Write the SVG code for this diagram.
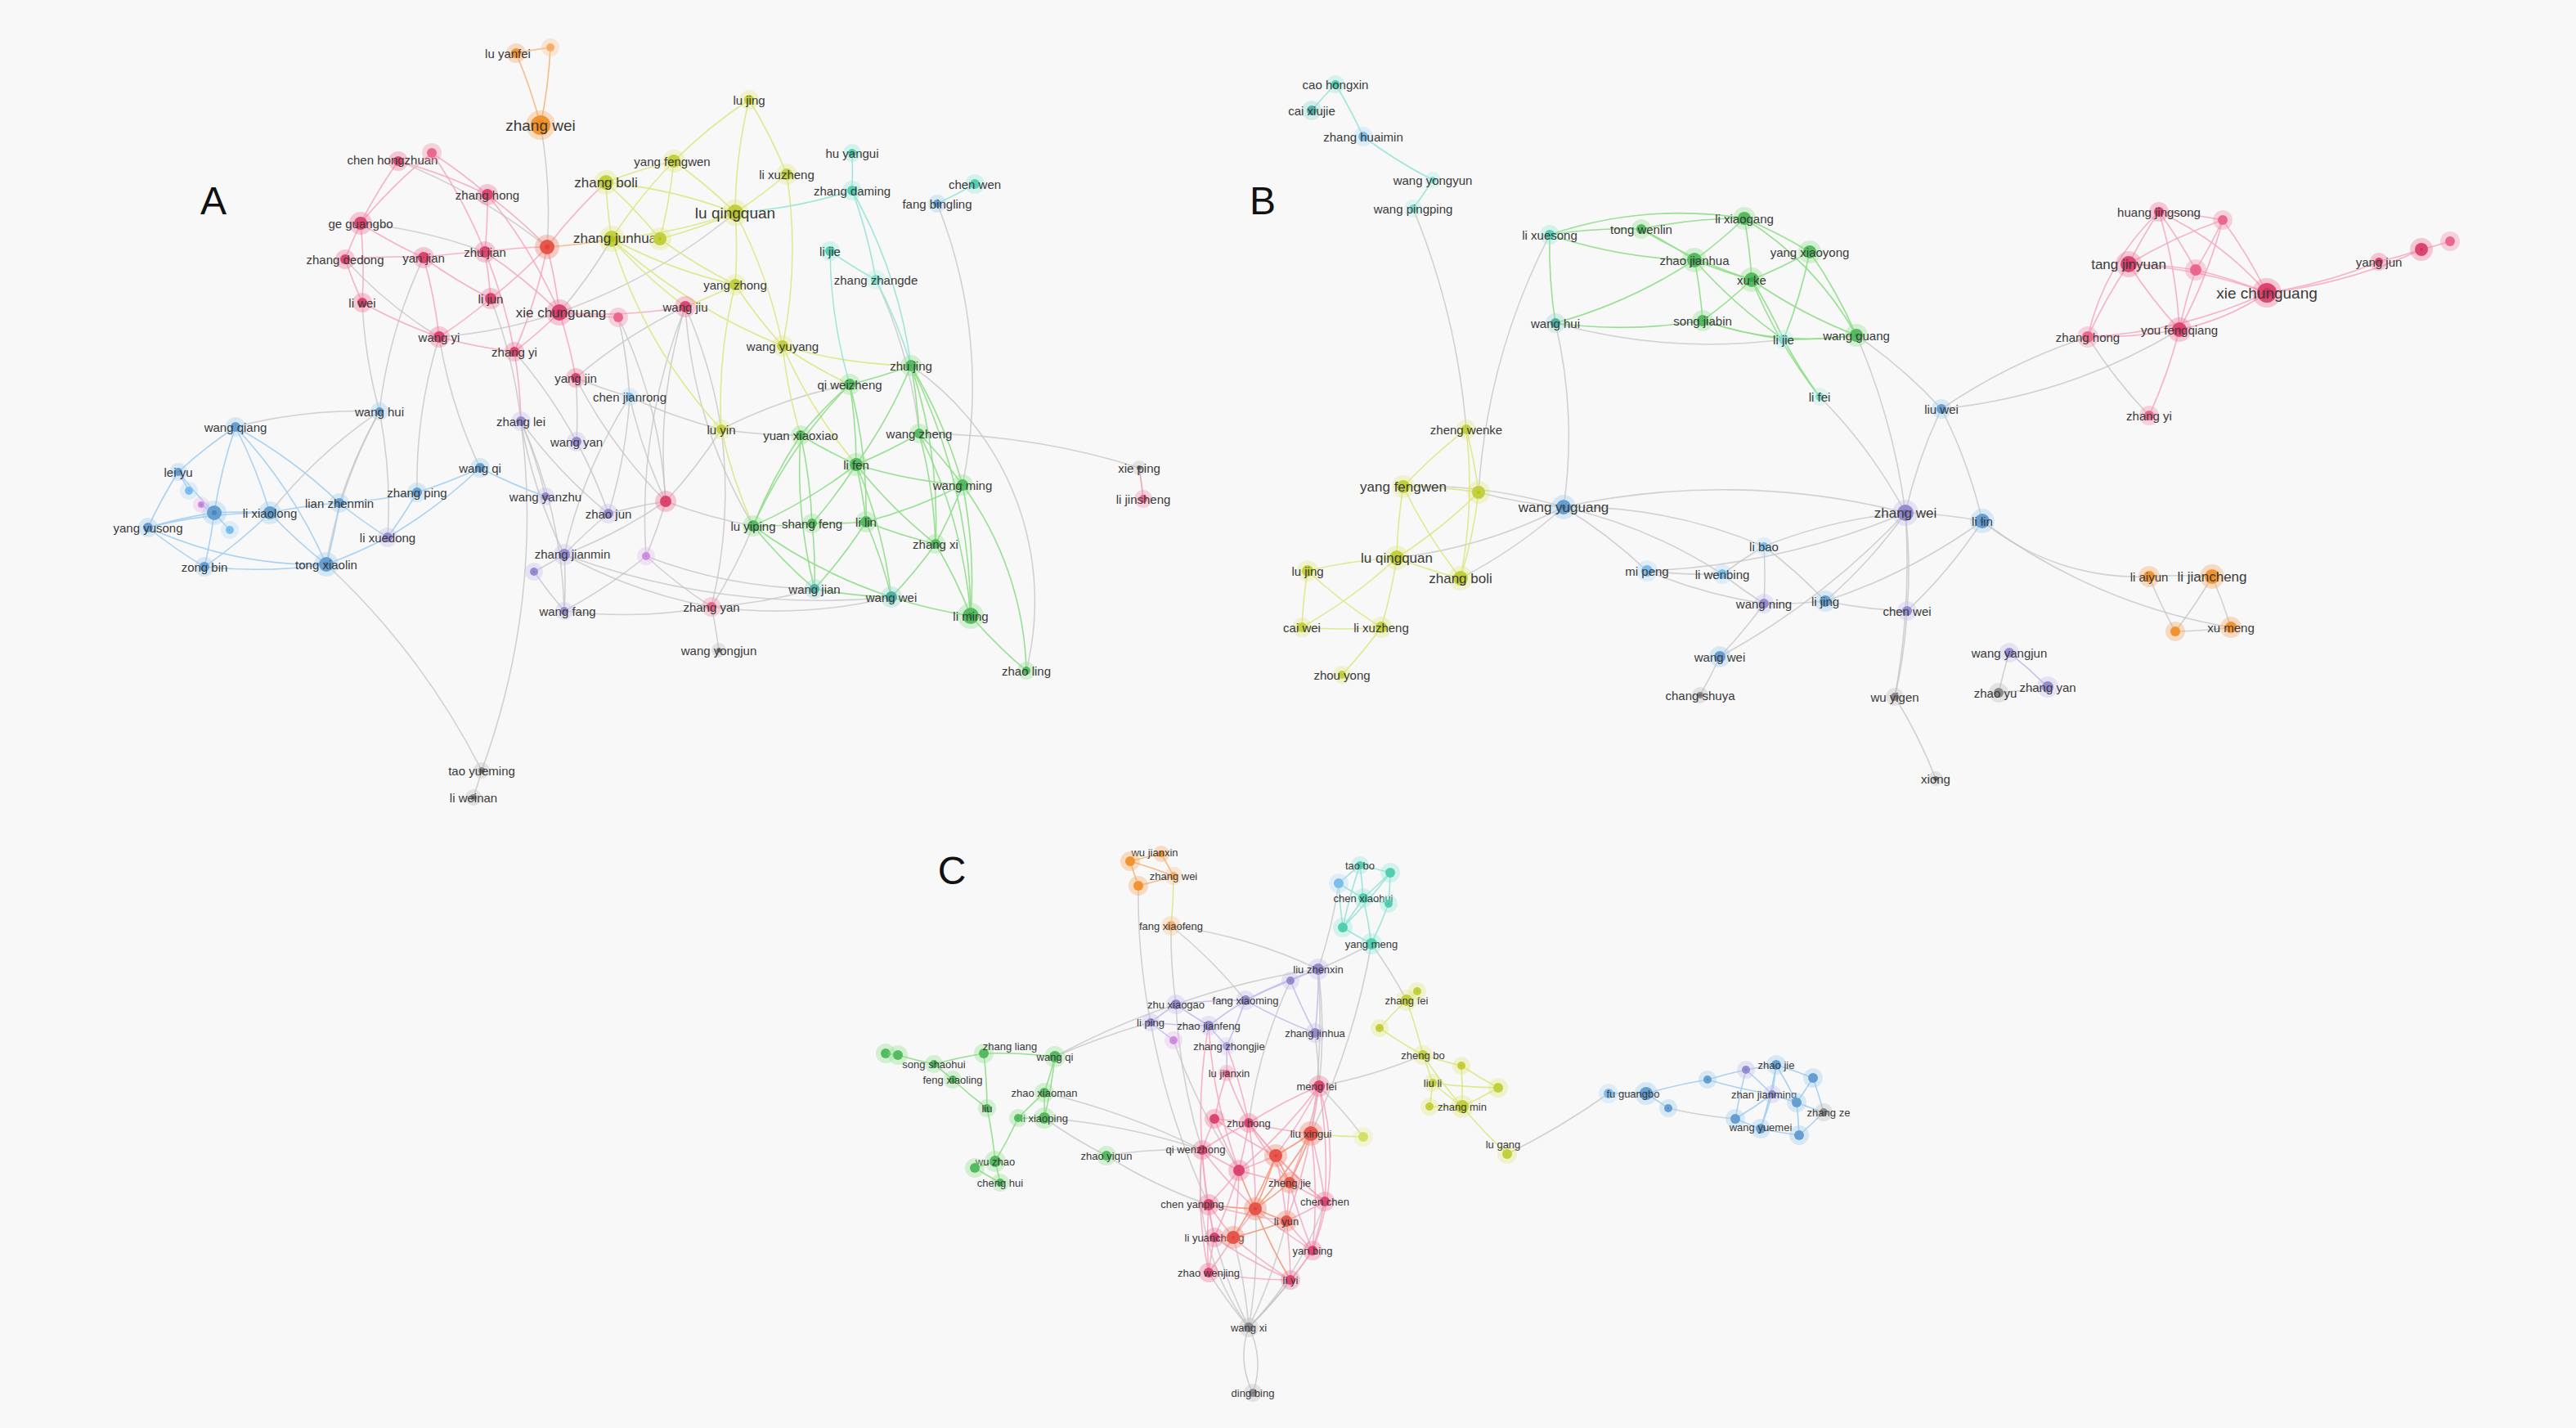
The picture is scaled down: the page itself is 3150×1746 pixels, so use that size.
<svg xmlns="http://www.w3.org/2000/svg" width="3150" height="1746" viewBox="0 0 3150 1746">
<style>
.bg{fill:#f8f8f8}
#connectors path{fill:none;stroke-width:1.6}
.g0 path{stroke:#c4c4c4;stroke-opacity:.75}
.pk path{stroke:#f6a6be;stroke-opacity:.85}
.yl path{stroke:#dde88a;stroke-opacity:.95}
.gr path{stroke:#92de8c;stroke-opacity:.95}
.tl path{stroke:#9fe6d8}
.bl path{stroke:#a9d2f2}
.or path{stroke:#f5bc86}
.pu path{stroke:#c9c2ee}
.ro path{stroke:#f4a083}
circle{stroke-opacity:.35;stroke-width:12}
.cO{fill:#f08a1c;stroke:#f5a45a}
.cOl{fill:#f4a65a;stroke:#f8c48e}
.cR{fill:#d0325e;stroke:#f06a92}
.cRp{fill:#e9557f;stroke:#f48aaa}
.cRr{fill:#e0433f;stroke:#f07a60}
.cY{fill:#b4c21c;stroke:#dfe87a}
.cYl{fill:#cbd84a;stroke:#e6ee9c}
.cG{fill:#36a84a;stroke:#8fe08a}
.cT{fill:#33c0a0;stroke:#8fe8d6}
.cTl{fill:#6cd5c3;stroke:#b0efe4}
.cTd{fill:#2a9d8f;stroke:#8fd8cf}
.cB{fill:#4a86c0;stroke:#9ccaf0}
.cLB{fill:#62aee6;stroke:#b0daf6}
.cP{fill:#7d72c2;stroke:#c2bcec}
.cPl{fill:#9a90d6;stroke:#d0cbf2}
.cV{fill:#c47ad8;stroke:#e2b6ee}
.cGr{fill:#707070;stroke:#bbbbbb}
text{font-family:"Liberation Sans",Arial,sans-serif;font-size:15px;fill:#3a3a3a;text-anchor:middle;dominant-baseline:central}
.s{font-size:13px}
.m{font-size:17px}
.L{font-size:19px}
.panel{font-size:48px;fill:#111;dominant-baseline:auto}
</style>
<rect class="bg" x="0" y="0" width="3150" height="1746"/>
<text class="panel" x="261" y="262">A</text>
<text class="panel" x="1544" y="262">B</text>
<text class="panel" x="1164" y="1081">C</text>
<g id="connectors">
<g class="g0">
<path d="M661 153A600 600 0 0 1 669 302"/>
<path d="M441 273A600 600 0 0 1 593 308"/>
<path d="M487 197A700 700 0 0 1 669 302"/>
<path d="M422 317A500 500 0 0 0 537 412"/>
<path d="M443 370A600 600 0 0 0 464 503"/>
<path d="M600 365A600 600 0 0 1 637 515"/>
<path d="M537 412A600 600 0 0 0 587 572"/>
<path d="M629 430A600 600 0 0 1 705 540"/>
<path d="M704 462A600 600 0 0 1 705 540"/>
<path d="M464 503A600 600 0 0 0 330 627"/>
<path d="M464 503A600 600 0 0 0 399 690"/>
<path d="M464 503A600 600 0 0 0 288 522"/>
<path d="M464 503A600 600 0 0 1 474 657"/>
<path d="M464 503A600 600 0 0 0 415 615"/>
<path d="M637 515A600 600 0 0 0 744 628"/>
<path d="M637 515A600 600 0 0 1 667 607"/>
<path d="M705 540A600 600 0 0 1 744 628"/>
<path d="M704 462A600 600 0 0 1 838 375"/>
<path d="M704 462A600 600 0 0 0 770 485"/>
<path d="M537 412A600 600 0 0 0 684 382"/>
<path d="M684 382A600 600 0 0 0 748 292"/>
<path d="M684 382A700 700 0 0 0 899 260"/>
<path d="M704 462A600 600 0 0 0 814 613"/>
<path d="M637 515A600 600 0 0 0 690 678"/>
<path d="M518 315A600 600 0 0 0 464 503"/>
<path d="M537 412A600 600 0 0 0 510 602"/>
<path d="M637 515A600 600 0 0 1 690 747"/>
<path d="M770 485A600 600 0 0 0 690 678"/>
<path d="M882 525A600 600 0 0 1 870 742"/>
<path d="M838 375A700 700 0 0 0 790 680"/>
<path d="M1039 470A600 600 0 0 0 882 525"/>
<path d="M1146 249A600 600 0 0 1 1177 593"/>
<path d="M1071 342A600 600 0 0 1 1124 530"/>
<path d="M1114 447A350 350 0 0 1 1255 820"/>
<path d="M838 375A600 600 0 0 0 814 613"/>
<path d="M838 375A600 600 0 0 0 921 643"/>
<path d="M814 613A600 600 0 0 0 921 643"/>
<path d="M814 613A600 600 0 0 0 744 628"/>
<path d="M814 613A600 600 0 0 1 790 680"/>
<path d="M814 613A600 600 0 0 1 690 678"/>
<path d="M814 613A600 600 0 0 0 882 525"/>
<path d="M814 613A600 600 0 0 1 770 485"/>
<path d="M744 628A600 600 0 0 0 690 678"/>
<path d="M690 678A600 600 0 0 1 653 699"/>
<path d="M690 678A600 600 0 0 0 870 742"/>
<path d="M690 678A600 600 0 0 1 690 747"/>
<path d="M790 680A600 600 0 0 1 690 747"/>
<path d="M790 680A600 600 0 0 0 870 742"/>
<path d="M870 742A600 600 0 0 1 879 795"/>
<path d="M870 742A600 600 0 0 0 996 720"/>
<path d="M870 742A600 600 0 0 0 921 643"/>
<path d="M770 485A600 600 0 0 0 882 525"/>
<path d="M770 485A600 600 0 0 1 744 628"/>
<path d="M882 525A600 600 0 0 0 979 532"/>
<path d="M690 747A600 600 0 0 1 653 699"/>
<path d="M690 678A900 900 0 0 0 1090 730"/>
<path d="M790 680A600 600 0 0 0 996 720"/>
<path d="M870 742A600 600 0 0 0 1090 730"/>
<path d="M690 747A600 600 0 0 0 870 742"/>
<path d="M756 388A600 600 0 0 1 814 613"/>
<path d="M756 388A600 600 0 0 1 770 485"/>
<path d="M838 375A600 600 0 0 1 882 525"/>
<path d="M1124 530A900 900 0 0 1 1393 572"/>
<path d="M1393 572A600 600 0 0 1 1398 610"/>
<path d="M399 690A900 900 0 0 1 589 942"/>
<path d="M637 515A900 900 0 0 1 589 942"/>
<path d="M589 942A600 600 0 0 1 579 975"/>
<path d="M1728 255A900 900 0 0 1 1793 525"/>
<path d="M1902 395A700 700 0 0 0 2181 415"/>
<path d="M2270 410A600 600 0 0 1 2374 500"/>
<path d="M2225 485A600 600 0 0 1 2330 627"/>
<path d="M1902 395A600 600 0 0 1 1912 620"/>
<path d="M1895 287A800 800 0 0 0 1808 602"/>
<path d="M1808 602A600 600 0 0 0 1912 620"/>
<path d="M1786 707A600 600 0 0 0 1912 620"/>
<path d="M1708 682A600 600 0 0 0 1912 620"/>
<path d="M1716 595A600 600 0 0 1 1912 620"/>
<path d="M1912 620A600 600 0 0 1 2014 698"/>
<path d="M1912 620A600 600 0 0 1 2106 702"/>
<path d="M1912 620A600 600 0 0 1 2157 668"/>
<path d="M1912 620A900 900 0 0 1 2330 627"/>
<path d="M2014 698A600 600 0 0 0 2106 702"/>
<path d="M2014 698A600 600 0 0 0 2157 738"/>
<path d="M2106 702A600 600 0 0 0 2157 738"/>
<path d="M2106 702A600 600 0 0 1 2157 668"/>
<path d="M2157 668A600 600 0 0 1 2157 738"/>
<path d="M2157 668A600 600 0 0 1 2232 735"/>
<path d="M2157 738A600 600 0 0 0 2232 735"/>
<path d="M2157 738A600 600 0 0 1 2103 803"/>
<path d="M2103 803A600 600 0 0 1 2079 850"/>
<path d="M2157 668A600 600 0 0 1 2330 627"/>
<path d="M2232 735A600 600 0 0 0 2330 627"/>
<path d="M2232 735A700 700 0 0 0 2424 637"/>
<path d="M2330 627A600 600 0 0 1 2424 637"/>
<path d="M2330 627A600 600 0 0 1 2374 500"/>
<path d="M2374 500A600 600 0 0 1 2424 637"/>
<path d="M2330 627A600 600 0 0 1 2332 747"/>
<path d="M2424 637A600 600 0 0 1 2332 747"/>
<path d="M2332 747A600 600 0 0 1 2317 852"/>
<path d="M2317 852A600 600 0 0 1 2367 952"/>
<path d="M2330 627A900 900 0 0 1 2317 852"/>
<path d="M2424 637A300 300 0 0 0 2628 705"/>
<path d="M2424 637A700 700 0 0 0 2728 767"/>
<path d="M2628 705A600 600 0 0 1 2705 705"/>
<path d="M2628 705A600 600 0 0 0 2660 772"/>
<path d="M2705 705A600 600 0 0 1 2660 772"/>
<path d="M2705 705A600 600 0 0 1 2728 767"/>
<path d="M2660 772A600 600 0 0 0 2728 767"/>
<path d="M2457 798A600 600 0 0 0 2444 847"/>
<path d="M2457 798A600 600 0 0 1 2504 840"/>
<path d="M2444 847A600 600 0 0 0 2504 840"/>
<path d="M2374 500A700 700 0 0 1 2553 412"/>
<path d="M2330 627A900 900 0 0 1 2103 803"/>
<path d="M2330 627A800 800 0 0 0 2270 410"/>
<path d="M2330 627A900 900 0 0 1 2014 698"/>
<path d="M2332 747A600 600 0 0 1 2232 735"/>
<path d="M2553 412A600 600 0 0 0 2628 508"/>
<path d="M2665 403A700 700 0 0 1 2374 500"/>
<path d="M1432 1132A600 600 0 0 0 1438 1228"/>
<path d="M1432 1132A600 600 0 0 1 1523 1223"/>
<path d="M1432 1132A600 600 0 0 1 1612 1185"/>
<path d="M1392 1083A800 800 0 0 0 1407 1250"/>
<path d="M1677 1154A600 600 0 0 1 1612 1185"/>
<path d="M1677 1154A600 600 0 0 1 1720 1223"/>
<path d="M1612 1185A600 600 0 0 1 1613 1328"/>
<path d="M1608 1263A600 600 0 0 1 1613 1328"/>
<path d="M1578 1199A600 600 0 0 0 1527 1373"/>
<path d="M1612 1185A900 900 0 0 1 1603 1386"/>
<path d="M1677 1154A900 900 0 0 1 1603 1386"/>
<path d="M1612 1185A900 900 0 0 0 1438 1228"/>
<path d="M1612 1185A600 600 0 0 0 1637 1080"/>
<path d="M1740 1290A600 600 0 0 1 1613 1328"/>
<path d="M1667 1390A600 600 0 0 0 1613 1328"/>
<path d="M1843 1411A900 900 0 0 0 1967 1337"/>
<path d="M2040 1355A600 600 0 0 0 2122 1368"/>
<path d="M1277 1367A600 600 0 0 0 1353 1413"/>
<path d="M1353 1413A600 600 0 0 0 1478 1473"/>
<path d="M1353 1413A600 600 0 0 1 1470 1406"/>
<path d="M1277 1367A800 800 0 0 1 1470 1406"/>
<path d="M1290 1292A900 900 0 0 1 1407 1250"/>
<path d="M1290 1292A900 900 0 0 1 1438 1228"/>
<path d="M1277 1336A900 900 0 0 1 1470 1406"/>
<path d="M1407 1250A900 900 0 0 0 1478 1473"/>
<path d="M1435 1272A700 700 0 0 0 1515 1431"/>
<path d="M1438 1228A700 700 0 0 0 1470 1406"/>
<path d="M1478 1556A600 600 0 0 0 1527 1623"/>
<path d="M1578 1565A600 600 0 0 1 1527 1623"/>
<path d="M1508 1513A600 600 0 0 1 1527 1623"/>
<path d="M1485 1513A600 600 0 0 0 1527 1623"/>
<path d="M1605 1529A600 600 0 0 1 1527 1623"/>
<path d="M1470 1406A300 300 0 0 0 1527 1623"/>
<path d="M1620 1469A400 400 0 0 1 1527 1623"/>
<path d="M1535 1478A600 600 0 0 1 1527 1623"/>
<path d="M1573 1493A600 600 0 0 1 1527 1623"/>
<path d="M1527 1623A100 100 0 0 0 1532 1703"/>
<path d="M1527 1623A100 100 0 0 1 1532 1703"/>
</g>
<g class="or">
<path d="M631 65A600 600 0 0 1 661 153"/>
<path d="M673 58A600 600 0 0 1 661 153"/>
<path d="M631 65A600 600 0 0 1 673 58"/>
<path d="M669 302A600 600 0 0 0 748 292"/>
<path d="M1420 1044A600 600 0 0 0 1382 1053"/>
<path d="M1382 1053A600 600 0 0 0 1392 1083"/>
<path d="M1392 1083A600 600 0 0 0 1435 1071"/>
<path d="M1420 1044A600 600 0 0 1 1435 1071"/>
<path d="M1382 1053A600 600 0 0 1 1435 1071"/>
</g>
<g class="pk">
<path d="M487 197A600 600 0 0 0 441 273"/>
<path d="M487 197A600 600 0 0 1 596 238"/>
<path d="M528 187A600 600 0 0 0 441 273"/>
<path d="M528 187A600 600 0 0 1 596 238"/>
<path d="M528 187A600 600 0 0 1 593 308"/>
<path d="M596 238A600 600 0 0 1 593 308"/>
<path d="M596 238A600 600 0 0 1 669 302"/>
<path d="M593 308A600 600 0 0 1 669 302"/>
<path d="M593 308A600 600 0 0 1 684 382"/>
<path d="M593 308A600 600 0 0 1 600 365"/>
<path d="M669 302A600 600 0 0 1 684 382"/>
<path d="M669 302A600 600 0 0 1 629 430"/>
<path d="M669 302A600 600 0 0 1 600 365"/>
<path d="M593 308A600 600 0 0 0 518 315"/>
<path d="M518 315A600 600 0 0 1 537 412"/>
<path d="M518 315A600 600 0 0 0 600 365"/>
<path d="M441 273A600 600 0 0 0 422 317"/>
<path d="M441 273A600 600 0 0 0 518 315"/>
<path d="M441 273A600 600 0 0 1 443 370"/>
<path d="M422 317A600 600 0 0 0 443 370"/>
<path d="M422 317A600 600 0 0 1 518 315"/>
<path d="M600 365A600 600 0 0 1 537 412"/>
<path d="M537 412A600 600 0 0 0 629 430"/>
<path d="M684 382A600 600 0 0 1 629 430"/>
<path d="M684 382A600 600 0 0 1 704 462"/>
<path d="M684 382A600 600 0 0 0 838 375"/>
<path d="M684 382A600 600 0 0 0 756 388"/>
<path d="M629 430A600 600 0 0 1 637 515"/>
<path d="M443 370A600 600 0 0 0 537 412"/>
<path d="M596 238A600 600 0 0 1 684 382"/>
<path d="M593 308A600 600 0 0 1 629 430"/>
<path d="M669 302A600 600 0 0 1 741 223"/>
<path d="M1393 572A600 600 0 0 1 1398 610"/>
<path d="M2640 259A600 600 0 0 1 2718 269"/>
<path d="M2640 259A600 600 0 0 0 2603 323"/>
<path d="M2640 259A600 600 0 0 1 2685 330"/>
<path d="M2640 259A400 400 0 0 1 2772 358"/>
<path d="M2640 259A300 300 0 0 0 2553 412"/>
<path d="M2718 269A600 600 0 0 0 2603 323"/>
<path d="M2718 269A600 600 0 0 1 2772 358"/>
<path d="M2718 269A600 600 0 0 1 2665 403"/>
<path d="M2718 269A600 600 0 0 1 2685 330"/>
<path d="M2603 323A600 600 0 0 1 2685 330"/>
<path d="M2603 323A600 600 0 0 0 2665 403"/>
<path d="M2603 323A600 600 0 0 0 2553 412"/>
<path d="M2603 323A600 600 0 0 1 2772 358"/>
<path d="M2685 330A600 600 0 0 1 2772 358"/>
<path d="M2685 330A600 600 0 0 0 2665 403"/>
<path d="M2772 358A300 300 0 0 1 2665 403"/>
<path d="M2665 403A600 600 0 0 1 2553 412"/>
<path d="M2665 403A600 600 0 0 1 2628 508"/>
<path d="M2772 358A600 600 0 0 1 2553 412"/>
<path d="M2772 358A600 600 0 0 0 2909 320"/>
<path d="M2909 320A600 600 0 0 0 2961 305"/>
<path d="M2961 305A600 600 0 0 0 2996 295"/>
<path d="M2772 358A600 600 0 0 0 2961 305"/>
<path d="M2640 259A600 600 0 0 1 2665 403"/>
<path d="M1527 1373A600 600 0 0 1 1613 1328"/>
<path d="M1527 1373A600 600 0 0 0 1603 1386"/>
<path d="M1527 1373A600 600 0 0 0 1470 1406"/>
<path d="M1527 1373A600 600 0 0 0 1560 1413"/>
<path d="M1527 1373A600 600 0 0 1 1515 1431"/>
<path d="M1613 1328A600 600 0 0 1 1603 1386"/>
<path d="M1613 1328A600 600 0 0 1 1560 1413"/>
<path d="M1613 1328A600 600 0 0 1 1620 1469"/>
<path d="M1603 1386A600 600 0 0 1 1620 1469"/>
<path d="M1603 1386A600 600 0 0 1 1605 1529"/>
<path d="M1470 1406A600 600 0 0 0 1515 1431"/>
<path d="M1470 1406A600 600 0 0 0 1478 1473"/>
<path d="M1470 1406A600 600 0 0 1 1485 1368"/>
<path d="M1485 1368A600 600 0 0 1 1527 1373"/>
<path d="M1560 1413A600 600 0 0 1 1515 1431"/>
<path d="M1515 1431A600 600 0 0 1 1478 1473"/>
<path d="M1515 1431A600 600 0 0 0 1577 1446"/>
<path d="M1577 1446A600 600 0 0 0 1620 1469"/>
<path d="M1577 1446A600 600 0 0 1 1573 1493"/>
<path d="M1620 1469A600 600 0 0 1 1605 1529"/>
<path d="M1620 1469A600 600 0 0 1 1573 1493"/>
<path d="M1478 1473A600 600 0 0 0 1485 1513"/>
<path d="M1478 1473A600 600 0 0 0 1508 1513"/>
<path d="M1535 1478A600 600 0 0 1 1508 1513"/>
<path d="M1573 1493A600 600 0 0 0 1605 1529"/>
<path d="M1573 1493A600 600 0 0 1 1578 1565"/>
<path d="M1485 1513A600 600 0 0 0 1508 1513"/>
<path d="M1485 1513A600 600 0 0 0 1478 1556"/>
<path d="M1508 1513A600 600 0 0 1 1478 1556"/>
<path d="M1508 1513A600 600 0 0 0 1578 1565"/>
<path d="M1605 1529A600 600 0 0 1 1578 1565"/>
<path d="M1478 1556A600 600 0 0 0 1578 1565"/>
<path d="M1500 1312A600 600 0 0 0 1527 1373"/>
<path d="M1500 1312A600 600 0 0 0 1485 1368"/>
<path d="M1500 1279A600 600 0 0 1 1527 1373"/>
<path d="M1478 1254A600 600 0 0 0 1470 1406"/>
<path d="M1613 1328A600 600 0 0 1 1577 1446"/>
<path d="M1603 1386A600 600 0 0 1 1573 1493"/>
<path d="M1470 1406A500 500 0 0 0 1478 1556"/>
<path d="M1478 1473A600 600 0 0 0 1478 1556"/>
<path d="M1560 1413A600 600 0 0 0 1620 1469"/>
<path d="M1527 1373A600 600 0 0 1 1535 1478"/>
<path d="M1515 1431A600 600 0 0 1 1485 1513"/>
<path d="M1535 1478A600 600 0 0 0 1605 1529"/>
<path d="M1613 1328A300 300 0 0 1 1605 1529"/>
<path d="M1470 1406A600 600 0 0 0 1485 1513"/>
<path d="M1527 1373A600 600 0 0 0 1577 1446"/>
<path d="M1485 1368A600 600 0 0 0 1515 1431"/>
<path d="M1560 1413A600 600 0 0 1 1573 1493"/>
<path d="M1478 1254A600 600 0 0 0 1515 1431"/>
<path d="M1485 1368A600 600 0 0 0 1560 1413"/>
<path d="M1470 1406A600 600 0 0 0 1535 1478"/>
<path d="M1478 1473A600 600 0 0 0 1573 1493"/>
<path d="M1485 1513A600 600 0 0 0 1578 1565"/>
<path d="M1577 1446A600 600 0 0 0 1605 1529"/>
<path d="M1515 1431A600 600 0 0 1 1508 1513"/>
<path d="M1527 1373A600 600 0 0 0 1620 1469"/>
<path d="M1613 1328A600 600 0 0 1 1515 1431"/>
</g>
<g class="ro">
<path d="M1603 1386A600 600 0 0 1 1560 1413"/>
<path d="M1603 1386A600 600 0 0 1 1577 1446"/>
<path d="M1560 1413A600 600 0 0 1 1577 1446"/>
<path d="M1560 1413A600 600 0 0 1 1535 1478"/>
<path d="M1515 1431A600 600 0 0 0 1535 1478"/>
<path d="M1577 1446A600 600 0 0 1 1535 1478"/>
<path d="M1478 1473A600 600 0 0 0 1535 1478"/>
<path d="M1535 1478A600 600 0 0 0 1573 1493"/>
<path d="M1603 1386A600 600 0 0 1 1535 1478"/>
<path d="M1560 1413A600 600 0 0 1 1508 1513"/>
<path d="M1535 1478A600 600 0 0 0 1578 1565"/>
<path d="M1573 1493A600 600 0 0 1 1508 1513"/>
</g>
<g class="yl">
<path d="M916 122A600 600 0 0 0 899 260"/>
<path d="M916 122A600 600 0 0 1 962 213"/>
<path d="M824 197A600 600 0 0 0 741 223"/>
<path d="M824 197A600 600 0 0 1 899 260"/>
<path d="M824 197A600 600 0 0 0 748 292"/>
<path d="M824 197A600 600 0 0 1 807 292"/>
<path d="M741 223A600 600 0 0 0 748 292"/>
<path d="M741 223A600 600 0 0 1 899 260"/>
<path d="M741 223A600 600 0 0 1 807 292"/>
<path d="M899 260A600 600 0 0 1 748 292"/>
<path d="M899 260A600 600 0 0 1 807 292"/>
<path d="M899 260A600 600 0 0 0 962 213"/>
<path d="M899 260A600 600 0 0 1 899 348"/>
<path d="M748 292A600 600 0 0 0 899 348"/>
<path d="M807 292A600 600 0 0 0 899 348"/>
<path d="M899 348A600 600 0 0 0 957 423"/>
<path d="M899 260A600 600 0 0 1 957 423"/>
<path d="M962 213A600 600 0 0 1 957 423"/>
<path d="M957 423A600 600 0 0 0 1114 447"/>
<path d="M957 423A600 600 0 0 0 1039 470"/>
<path d="M899 348A600 600 0 0 0 882 525"/>
<path d="M882 525A600 600 0 0 0 921 643"/>
<path d="M748 292A600 600 0 0 0 838 375"/>
<path d="M899 348A600 600 0 0 1 838 375"/>
<path d="M957 423A600 600 0 0 0 979 532"/>
<path d="M748 292A600 600 0 0 0 882 525"/>
<path d="M824 197A600 600 0 0 1 916 122"/>
<path d="M748 292A700 700 0 0 0 957 423"/>
<path d="M957 423A600 600 0 0 0 1047 568"/>
<path d="M1793 525A600 600 0 0 0 1716 595"/>
<path d="M1793 525A600 600 0 0 1 1808 602"/>
<path d="M1716 595A600 600 0 0 1 1808 602"/>
<path d="M1716 595A600 600 0 0 0 1708 682"/>
<path d="M1808 602A600 600 0 0 1 1708 682"/>
<path d="M1808 602A600 600 0 0 1 1786 707"/>
<path d="M1708 682A600 600 0 0 0 1786 707"/>
<path d="M1708 682A600 600 0 0 0 1599 698"/>
<path d="M1708 682A600 600 0 0 1 1689 767"/>
<path d="M1708 682A600 600 0 0 1 1592 767"/>
<path d="M1599 698A600 600 0 0 0 1592 767"/>
<path d="M1599 698A600 600 0 0 0 1689 767"/>
<path d="M1592 767A600 600 0 0 0 1689 767"/>
<path d="M1689 767A600 600 0 0 1 1641 825"/>
<path d="M1716 595A600 600 0 0 0 1786 707"/>
<path d="M1793 525A600 600 0 0 1 1786 707"/>
<path d="M1435 1071A600 600 0 0 1 1432 1132"/>
<path d="M1720 1223A600 600 0 0 0 1733 1212"/>
<path d="M1720 1223A600 600 0 0 0 1687 1257"/>
<path d="M1720 1223A600 600 0 0 1 1740 1290"/>
<path d="M1740 1290A600 600 0 0 0 1787 1303"/>
<path d="M1740 1290A600 600 0 0 1 1752 1324"/>
<path d="M1740 1290A600 600 0 0 0 1788 1353"/>
<path d="M1752 1324A600 600 0 0 0 1788 1353"/>
<path d="M1752 1324A600 600 0 0 1 1748 1353"/>
<path d="M1748 1353A600 600 0 0 0 1788 1353"/>
<path d="M1788 1353A600 600 0 0 0 1832 1330"/>
<path d="M1787 1303A600 600 0 0 0 1832 1330"/>
<path d="M1787 1303A600 600 0 0 1 1788 1353"/>
<path d="M1788 1353A600 600 0 0 0 1843 1411"/>
<path d="M1752 1324A600 600 0 0 0 1832 1330"/>
<path d="M1687 1257A600 600 0 0 0 1740 1290"/>
<path d="M1667 1390A600 600 0 0 1 1603 1386"/>
</g>
<g class="tl">
<path d="M1042 187A600 600 0 0 1 1042 233"/>
<path d="M1042 233A600 600 0 0 1 1114 447"/>
<path d="M1192 225A600 600 0 0 1 1146 249"/>
<path d="M1015 307A600 600 0 0 0 1071 342"/>
<path d="M1071 342A600 600 0 0 1 1114 447"/>
<path d="M1015 307A600 600 0 0 0 1039 470"/>
<path d="M1042 233A600 600 0 0 1 899 260"/>
<path d="M1042 233A600 600 0 0 1 1071 342"/>
<path d="M1633 103A600 600 0 0 0 1604 135"/>
<path d="M1633 103A600 600 0 0 1 1667 167"/>
<path d="M1667 167A600 600 0 0 0 1752 220"/>
<path d="M1752 220A600 600 0 0 1 1728 255"/>
<path d="M1663 1058A600 600 0 0 1 1700 1067"/>
<path d="M1663 1058A600 600 0 0 0 1637 1080"/>
<path d="M1663 1058A600 600 0 0 1 1667 1098"/>
<path d="M1700 1067A600 600 0 0 1 1667 1098"/>
<path d="M1700 1067A600 600 0 0 1 1698 1105"/>
<path d="M1667 1098A600 600 0 0 0 1698 1105"/>
<path d="M1667 1098A600 600 0 0 1 1642 1134"/>
<path d="M1637 1080A600 600 0 0 0 1667 1098"/>
<path d="M1642 1134A600 600 0 0 0 1677 1154"/>
<path d="M1698 1105A600 600 0 0 1 1677 1154"/>
<path d="M1642 1134A600 600 0 0 1 1663 1058"/>
<path d="M1667 1098A600 600 0 0 1 1677 1154"/>
<path d="M1700 1067A600 600 0 0 1 1642 1134"/>
<path d="M1637 1080A600 600 0 0 0 1642 1134"/>
</g>
<g class="gr">
<path d="M1114 447A600 600 0 0 1 1039 470"/>
<path d="M1114 447A600 600 0 0 1 1124 530"/>
<path d="M1114 447A600 600 0 0 1 1047 568"/>
<path d="M1114 447A600 600 0 0 1 1177 593"/>
<path d="M1114 447A700 700 0 0 1 1187 753"/>
<path d="M1039 470A600 600 0 0 0 979 532"/>
<path d="M1039 470A600 600 0 0 1 1047 568"/>
<path d="M1039 470A600 600 0 0 1 1059 638"/>
<path d="M1124 530A600 600 0 0 1 1047 568"/>
<path d="M1124 530A600 600 0 0 1 1177 593"/>
<path d="M1124 530A600 600 0 0 1 1144 665"/>
<path d="M1124 530A600 600 0 0 1 1187 753"/>
<path d="M979 532A600 600 0 0 0 1047 568"/>
<path d="M979 532A600 600 0 0 0 921 643"/>
<path d="M979 532A600 600 0 0 1 993 640"/>
<path d="M1047 568A600 600 0 0 0 1177 593"/>
<path d="M1047 568A600 600 0 0 1 921 643"/>
<path d="M1047 568A600 600 0 0 1 993 640"/>
<path d="M1047 568A600 600 0 0 1 1059 638"/>
<path d="M1047 568A600 600 0 0 0 1144 665"/>
<path d="M1047 568A600 600 0 0 1 1090 730"/>
<path d="M1177 593A600 600 0 0 1 1059 638"/>
<path d="M1177 593A600 600 0 0 1 1144 665"/>
<path d="M1177 593A600 600 0 0 1 1187 753"/>
<path d="M921 643A600 600 0 0 0 993 640"/>
<path d="M921 643A600 600 0 0 0 996 720"/>
<path d="M993 640A600 600 0 0 0 1059 638"/>
<path d="M993 640A600 600 0 0 1 996 720"/>
<path d="M1059 638A600 600 0 0 0 1144 665"/>
<path d="M1059 638A600 600 0 0 1 996 720"/>
<path d="M1059 638A600 600 0 0 1 1090 730"/>
<path d="M1144 665A600 600 0 0 1 1090 730"/>
<path d="M1144 665A600 600 0 0 1 1187 753"/>
<path d="M996 720A600 600 0 0 0 1090 730"/>
<path d="M1090 730A600 600 0 0 0 1187 753"/>
<path d="M1187 753A600 600 0 0 0 1255 820"/>
<path d="M1177 593A400 400 0 0 1 1255 820"/>
<path d="M1114 447A600 600 0 0 1 1144 665"/>
<path d="M1039 470A600 600 0 0 0 921 643"/>
<path d="M979 532A600 600 0 0 0 996 720"/>
<path d="M921 643A600 600 0 0 0 1090 730"/>
<path d="M1895 287A600 600 0 0 1 2007 280"/>
<path d="M1895 287A600 600 0 0 0 2072 318"/>
<path d="M2007 280A600 600 0 0 1 2072 318"/>
<path d="M2007 280A600 600 0 0 1 2133 267"/>
<path d="M2133 267A600 600 0 0 1 2072 318"/>
<path d="M2133 267A600 600 0 0 1 2142 342"/>
<path d="M2133 267A600 600 0 0 1 2213 308"/>
<path d="M2133 267A400 400 0 0 1 2270 410"/>
<path d="M2072 318A600 600 0 0 0 2142 342"/>
<path d="M2072 318A600 600 0 0 1 2082 392"/>
<path d="M2142 342A600 600 0 0 1 2082 392"/>
<path d="M2142 342A600 600 0 0 0 2213 308"/>
<path d="M2142 342A600 600 0 0 0 2270 410"/>
<path d="M2142 342A600 600 0 0 1 2181 415"/>
<path d="M2142 342A600 600 0 0 0 2225 485"/>
<path d="M2213 308A600 600 0 0 1 2270 410"/>
<path d="M2082 392A600 600 0 0 0 2181 415"/>
<path d="M2181 415A600 600 0 0 0 2225 485"/>
<path d="M2181 415A600 600 0 0 0 2270 410"/>
<path d="M1895 287A600 600 0 0 0 1902 395"/>
<path d="M1902 395A600 600 0 0 0 2082 392"/>
<path d="M1902 395A600 600 0 0 0 2072 318"/>
<path d="M1895 287A500 500 0 0 1 2133 267"/>
<path d="M2007 280A600 600 0 0 0 2142 342"/>
<path d="M2082 392A400 400 0 0 0 2270 410"/>
<path d="M2072 318A600 600 0 0 0 2181 415"/>
<path d="M2213 308A600 600 0 0 1 2181 415"/>
<path d="M1083 1288A600 600 0 0 1 1098 1290"/>
<path d="M1098 1290A600 600 0 0 0 1142 1301"/>
<path d="M1142 1301A600 600 0 0 1 1165 1320"/>
<path d="M1142 1301A600 600 0 0 1 1203 1288"/>
<path d="M1203 1288A600 600 0 0 1 1290 1292"/>
<path d="M1203 1288A600 600 0 0 1 1207 1355"/>
<path d="M1290 1292A600 600 0 0 1 1277 1336"/>
<path d="M1277 1336A600 600 0 0 1 1277 1367"/>
<path d="M1277 1336A600 600 0 0 0 1245 1367"/>
<path d="M1277 1367A600 600 0 0 1 1245 1367"/>
<path d="M1290 1292A600 600 0 0 1 1277 1367"/>
<path d="M1207 1355A600 600 0 0 1 1217 1420"/>
<path d="M1217 1420A600 600 0 0 1 1192 1428"/>
<path d="M1217 1420A600 600 0 0 1 1223 1446"/>
<path d="M1192 1428A600 600 0 0 0 1223 1446"/>
<path d="M1245 1367A600 600 0 0 1 1217 1420"/>
<path d="M1165 1320A600 600 0 0 0 1207 1355"/>
</g>
<g class="bl">
<path d="M288 522A600 600 0 0 0 218 577"/>
<path d="M288 522A600 600 0 0 0 262 627"/>
<path d="M288 522A600 600 0 0 1 330 627"/>
<path d="M288 522A600 600 0 0 1 399 690"/>
<path d="M288 522A600 600 0 0 1 415 615"/>
<path d="M218 577A600 600 0 0 0 262 627"/>
<path d="M218 577A600 600 0 0 1 231 600"/>
<path d="M262 627A600 600 0 0 1 330 627"/>
<path d="M262 627A600 600 0 0 0 181 645"/>
<path d="M262 627A600 600 0 0 1 250 693"/>
<path d="M262 627A600 600 0 0 0 281 648"/>
<path d="M262 627A600 600 0 0 0 246 617"/>
<path d="M330 627A600 600 0 0 1 415 615"/>
<path d="M330 627A600 600 0 0 0 181 645"/>
<path d="M330 627A600 600 0 0 0 399 690"/>
<path d="M330 627A600 600 0 0 1 250 693"/>
<path d="M415 615A600 600 0 0 1 399 690"/>
<path d="M415 615A600 600 0 0 0 474 657"/>
<path d="M415 615A600 600 0 0 0 510 602"/>
<path d="M474 657A600 600 0 0 1 399 690"/>
<path d="M474 657A600 600 0 0 0 510 602"/>
<path d="M399 690A600 600 0 0 1 250 693"/>
<path d="M181 645A600 600 0 0 0 250 693"/>
<path d="M510 602A600 600 0 0 0 587 572"/>
<path d="M587 572A600 600 0 0 0 667 607"/>
<path d="M181 645A500 500 0 0 0 399 690"/>
<path d="M218 577A600 600 0 0 0 181 645"/>
<path d="M474 657A600 600 0 0 0 587 572"/>
<path d="M1967 1337A600 600 0 0 1 2013 1337"/>
<path d="M2013 1337A600 600 0 0 1 2040 1355"/>
<path d="M2013 1337A600 600 0 0 1 2088 1320"/>
<path d="M2088 1320A600 600 0 0 1 2135 1308"/>
<path d="M2088 1320A600 600 0 0 0 2167 1338"/>
<path d="M2135 1308A600 600 0 0 1 2172 1302"/>
<path d="M2135 1308A600 600 0 0 1 2167 1338"/>
<path d="M2172 1302A600 600 0 0 1 2217 1318"/>
<path d="M2172 1302A600 600 0 0 1 2167 1338"/>
<path d="M2172 1302A600 600 0 0 1 2197 1348"/>
<path d="M2167 1338A600 600 0 0 0 2197 1348"/>
<path d="M2167 1338A600 600 0 0 1 2122 1368"/>
<path d="M2167 1338A600 600 0 0 1 2153 1380"/>
<path d="M2197 1348A600 600 0 0 0 2230 1360"/>
<path d="M2217 1318A600 600 0 0 1 2230 1360"/>
<path d="M2217 1318A600 600 0 0 1 2197 1348"/>
<path d="M2122 1368A600 600 0 0 0 2153 1380"/>
<path d="M2153 1380A600 600 0 0 0 2200 1388"/>
<path d="M2197 1348A600 600 0 0 1 2200 1388"/>
<path d="M2230 1360A600 600 0 0 1 2200 1388"/>
<path d="M2135 1308A600 600 0 0 0 2122 1368"/>
<path d="M2172 1302A600 600 0 0 1 2153 1380"/>
</g>
<g class="pu">
<path d="M1438 1228A600 600 0 0 0 1407 1250"/>
<path d="M1438 1228A600 600 0 0 1 1523 1223"/>
<path d="M1438 1228A600 600 0 0 0 1478 1254"/>
<path d="M1407 1250A600 600 0 0 0 1478 1254"/>
<path d="M1407 1250A600 600 0 0 0 1435 1272"/>
<path d="M1478 1254A600 600 0 0 0 1500 1279"/>
<path d="M1478 1254A600 600 0 0 1 1523 1223"/>
<path d="M1523 1223A600 600 0 0 1 1578 1199"/>
<path d="M1523 1223A600 600 0 0 1 1500 1279"/>
<path d="M1578 1199A600 600 0 0 1 1612 1185"/>
<path d="M1612 1185A600 600 0 0 1 1608 1263"/>
<path d="M1578 1199A600 600 0 0 0 1608 1263"/>
<path d="M1500 1279A600 600 0 0 1 1500 1312"/>
<path d="M1523 1223A600 600 0 0 0 1608 1263"/>
<path d="M1523 1223A600 600 0 0 1 1612 1185"/>
<path d="M2457 798A600 600 0 0 1 2504 840"/>
</g>
</g>
<g id="panel-a">
<g id="a-lu-yanfei"><circle class="cO" cx="631" cy="65" r="6"/><text x="621" y="65">lu yanfei</text></g>
<g id="a-n-orange"><circle class="cOl" cx="673" cy="58" r="5"/></g>
<g id="a-zhang-wei"><circle class="cO" cx="661" cy="153" r="12"/><text class="L" x="661" y="153">zhang wei</text></g>
<g id="a-chen-hongzhuan"><circle class="cR" cx="487" cy="197" r="6"/><text x="480" y="195">chen hongzhuan</text></g>
<g id="a-n-pink1"><circle class="cRp" cx="528" cy="187" r="6"/></g>
<g id="a-zhang-hong"><circle class="cR" cx="596" cy="238" r="7"/><text x="596" y="238">zhang hong</text></g>
<g id="a-ge-guangbo"><circle class="cR" cx="441" cy="273" r="8"/><text x="441" y="273">ge guangbo</text></g>
<g id="a-zhang-dedong"><circle class="cR" cx="422" cy="317" r="6"/><text x="422" y="317">zhang dedong</text></g>
<g id="a-yan-jian"><circle class="cR" cx="518" cy="315" r="7"/><text x="518" y="315">yan jian</text></g>
<g id="a-zhu-jian"><circle class="cR" cx="593" cy="308" r="7"/><text x="593" y="308">zhu jian</text></g>
<g id="a-n-red1"><circle class="cRr" cx="669" cy="302" r="9"/></g>
<g id="a-li-wei"><circle class="cR" cx="443" cy="370" r="6"/><text x="443" y="370">li wei</text></g>
<g id="a-li-jun"><circle class="cR" cx="600" cy="365" r="7"/><text x="600" y="365">li jun</text></g>
<g id="a-xie-chunguang"><circle class="cR" cx="684" cy="382" r="10"/><text class="m" x="686" y="382">xie chunguang</text></g>
<g id="a-wang-yi"><circle class="cR" cx="537" cy="412" r="7"/><text x="537" y="412">wang yi</text></g>
<g id="a-zhang-yi"><circle class="cR" cx="629" cy="430" r="6"/><text x="629" y="430">zhang yi</text></g>
<g id="a-yang-jin"><circle class="cR" cx="704" cy="462" r="6"/><text x="704" y="462">yang jin</text></g>
<g id="a-wang-hui"><circle class="cB" cx="464" cy="503" r="5"/><text x="464" y="503">wang hui</text></g>
<g id="a-zhang-lei"><circle class="cP" cx="637" cy="515" r="6"/><text x="637" y="515">zhang lei</text></g>
<g id="a-lu-jing"><circle class="cY" cx="916" cy="122" r="6"/><text x="916" y="122">lu jing</text></g>
<g id="a-yang-fengwen"><circle class="cY" cx="824" cy="197" r="8"/><text x="822" y="197">yang fengwen</text></g>
<g id="a-zhang-boli"><circle class="cY" cx="741" cy="223" r="9"/><text class="m" x="741" y="223">zhang boli</text></g>
<g id="a-li-xuzheng"><circle class="cY" cx="962" cy="213" r="7"/><text x="962" y="213">li xuzheng</text></g>
<g id="a-lu-qingquan"><circle class="cY" cx="899" cy="260" r="10"/><text class="L" x="899" y="260">lu qingquan</text></g>
<g id="a-zhang-junhua"><circle class="cY" cx="748" cy="292" r="10"/><text class="m" x="752" y="291">zhang junhua</text></g>
<g id="a-n-yellow1"><circle class="cY" cx="807" cy="292" r="8"/></g>
<g id="a-yang-zhong"><circle class="cY" cx="899" cy="348" r="7"/><text x="899" y="348">yang zhong</text></g>
<g id="a-wang-yuyang"><circle class="cY" cx="957" cy="423" r="7"/><text x="957" y="423">wang yuyang</text></g>
<g id="a-lu-yin"><circle class="cY" cx="882" cy="525" r="6"/><text x="882" y="525">lu yin</text></g>
<g id="a-hu-yangui"><circle class="cT" cx="1042" cy="187" r="5"/><text x="1042" y="187">hu yangui</text></g>
<g id="a-zhang-daming"><circle class="cT" cx="1042" cy="233" r="6"/><text x="1042" y="233">zhang daming</text></g>
<g id="a-chen-wen"><circle class="cT" cx="1192" cy="225" r="6"/><text x="1192" y="225">chen wen</text></g>
<g id="a-fang-bingling"><circle class="cB" cx="1146" cy="249" r="5"/><text x="1146" y="249">fang bingling</text></g>
<g id="a-li-jie"><circle class="cT" cx="1015" cy="307" r="6"/><text x="1015" y="307">li jie</text></g>
<g id="a-zhang-zhangde"><circle class="cTl" cx="1071" cy="342" r="6"/><text x="1071" y="342">zhang zhangde</text></g>
<g id="a-wang-jiu"><circle class="cR" cx="838" cy="375" r="7"/><text x="838" y="375">wang jiu</text></g>
<g id="a-n-pink2"><circle class="cRp" cx="756" cy="388" r="6"/></g>
<g id="a-chen-jianrong"><circle class="cLB" cx="770" cy="485" r="5"/><text x="770" y="485">chen jianrong</text></g>
<g id="a-zhu-jing"><circle class="cG" cx="1114" cy="447" r="7"/><text x="1114" y="447">zhu jing</text></g>
<g id="a-qi-weizheng"><circle class="cG" cx="1039" cy="470" r="7"/><text x="1039" y="470">qi weizheng</text></g>
<g id="a-wang-zheng"><circle class="cG" cx="1124" cy="530" r="6"/><text x="1124" y="530">wang zheng</text></g>
<g id="a-yuan-xiaoxiao"><circle class="cG" cx="979" cy="532" r="6"/><text x="979" y="532">yuan xiaoxiao</text></g>
<g id="a-li-fen"><circle class="cG" cx="1047" cy="568" r="8"/><text x="1047" y="568">li fen</text></g>
<g id="a-wang-ming"><circle class="cG" cx="1177" cy="593" r="7"/><text x="1177" y="593">wang ming</text></g>
<g id="a-lu-yiping"><circle class="cG" cx="921" cy="643" r="7"/><text x="921" y="643">lu yiping</text></g>
<g id="a-shang-feng"><circle class="cG" cx="993" cy="640" r="6"/><text x="993" y="640">shang feng</text></g>
<g id="a-li-lin"><circle class="cG" cx="1059" cy="638" r="7"/><text x="1059" y="638">li lin</text></g>
<g id="a-zhang-xi"><circle class="cG" cx="1144" cy="665" r="6"/><text x="1144" y="665">zhang xi</text></g>
<g id="a-wang-jian"><circle class="cTd" cx="996" cy="720" r="6"/><text x="996" y="720">wang jian</text></g>
<g id="a-wang-wei"><circle class="cTd" cx="1090" cy="730" r="7"/><text x="1090" y="730">wang wei</text></g>
<g id="a-li-ming"><circle class="cG" cx="1187" cy="753" r="10"/><text x="1187" y="753">li ming</text></g>
<g id="a-zhao-ling"><circle class="cG" cx="1255" cy="820" r="5"/><text x="1255" y="820">zhao ling</text></g>
<g id="a-n-red2"><circle class="cR" cx="814" cy="613" r="7"/></g>
<g id="a-zhao-jun"><circle class="cP" cx="744" cy="628" r="6"/><text x="744" y="628">zhao jun</text></g>
<g id="a-zhang-jianmin"><circle class="cP" cx="690" cy="678" r="7"/><text x="700" y="677">zhang jianmin</text></g>
<g id="a-n-purple1"><circle class="cP" cx="653" cy="699" r="5"/></g>
<g id="a-n-violet1"><circle class="cV" cx="790" cy="680" r="5"/></g>
<g id="a-zhang-yan"><circle class="cRp" cx="870" cy="742" r="6"/><text x="870" y="742">zhang yan</text></g>
<g id="a-wang-fang"><circle class="cP" cx="690" cy="747" r="5"/><text x="694" y="747">wang fang</text></g>
<g id="a-wang-yongjun"><circle class="cGr" cx="879" cy="795" r="3"/><text x="879" y="795">wang yongjun</text></g>
<g id="a-xie-ping"><circle class="cGr" cx="1393" cy="572" r="3"/><text x="1393" y="572">xie ping</text></g>
<g id="a-li-jinsheng"><circle class="cRp" cx="1398" cy="610" r="5"/><text x="1398" y="610">li jinsheng</text></g>
<g id="a-wang-qiang"><circle class="cB" cx="288" cy="522" r="6"/><text x="288" y="522">wang qiang</text></g>
<g id="a-lei-yu"><circle class="cB" cx="218" cy="577" r="5"/><text x="218" y="577">lei yu</text></g>
<g id="a-n-blue1"><circle class="cB" cx="262" cy="627" r="9"/></g>
<g id="a-li-xiaolong"><circle class="cB" cx="330" cy="627" r="8"/><text x="330" y="627">li xiaolong</text></g>
<g id="a-lian-zhenmin"><circle class="cB" cx="415" cy="615" r="6"/><text x="415" y="615">lian zhenmin</text></g>
<g id="a-yang-yusong"><circle class="cB" cx="181" cy="645" r="6"/><text x="181" y="645">yang yusong</text></g>
<g id="a-li-xuedong"><circle class="cP" cx="474" cy="657" r="6"/><text x="474" y="657">li xuedong</text></g>
<g id="a-tong-xiaolin"><circle class="cB" cx="399" cy="690" r="9"/><text x="399" y="690">tong xiaolin</text></g>
<g id="a-zong-bin"><circle class="cB" cx="250" cy="693" r="6"/><text x="250" y="693">zong bin</text></g>
<g id="a-zhang-ping"><circle class="cB" cx="510" cy="602" r="6"/><text x="510" y="602">zhang ping</text></g>
<g id="a-wang-qi"><circle class="cB" cx="587" cy="572" r="6"/><text x="587" y="572">wang qi</text></g>
<g id="a-wang-yanzhu"><circle class="cP" cx="667" cy="607" r="5"/><text x="667" y="607">wang yanzhu</text></g>
<g id="a-wang-yan"><circle class="cP" cx="705" cy="540" r="6"/><text x="705" y="540">wang yan</text></g>
<g id="a-n-lblue1"><circle class="cLB" cx="231" cy="600" r="5"/></g>
<g id="a-n-lblue2"><circle class="cLB" cx="281" cy="648" r="5"/></g>
<g id="a-n-violet2"><circle class="cV" cx="246" cy="617" r="4"/></g>
<g id="a-tao-yueming"><circle class="cGr" cx="589" cy="942" r="4"/><text x="589" y="942">tao yueming</text></g>
<g id="a-li-weinan"><circle class="cGr" cx="579" cy="975" r="4"/><text x="579" y="975">li weinan</text></g>
</g>
<g id="panel-b">
<g id="b-cao-hongxin"><circle class="cT" cx="1633" cy="103" r="5"/><text x="1633" y="103">cao hongxin</text></g>
<g id="b-cai-xiujie"><circle class="cTd" cx="1604" cy="135" r="6"/><text x="1604" y="135">cai xiujie</text></g>
<g id="b-zhang-huaimin"><circle class="cLB" cx="1667" cy="167" r="6"/><text x="1667" y="167">zhang huaimin</text></g>
<g id="b-wang-yongyun"><circle class="cTl" cx="1752" cy="220" r="4"/><text x="1752" y="220">wang yongyun</text></g>
<g id="b-wang-pingping"><circle class="cTl" cx="1728" cy="255" r="5"/><text x="1728" y="255">wang pingping</text></g>
<g id="b-li-xuesong"><circle class="cT" cx="1895" cy="287" r="6"/><text x="1895" y="287">li xuesong</text></g>
<g id="b-tong-wenlin"><circle class="cG" cx="2007" cy="280" r="6"/><text x="2007" y="280">tong wenlin</text></g>
<g id="b-li-xiaogang"><circle class="cG" cx="2133" cy="267" r="8"/><text x="2133" y="267">li xiaogang</text></g>
<g id="b-zhao-jianhua"><circle class="cG" cx="2072" cy="318" r="9"/><text x="2072" y="318">zhao jianhua</text></g>
<g id="b-yang-xiaoyong"><circle class="cG" cx="2213" cy="308" r="8"/><text x="2213" y="308">yang xiaoyong</text></g>
<g id="b-xu-ke"><circle class="cG" cx="2142" cy="342" r="9"/><text x="2142" y="342">xu ke</text></g>
<g id="b-wang-hui"><circle class="cTd" cx="1902" cy="395" r="6"/><text x="1902" y="395">wang hui</text></g>
<g id="b-song-jiabin"><circle class="cG" cx="2082" cy="392" r="7"/><text x="2082" y="392">song jiabin</text></g>
<g id="b-li-jie"><circle class="cTl" cx="2181" cy="415" r="6"/><text x="2181" y="415">li jie</text></g>
<g id="b-wang-guang"><circle class="cG" cx="2270" cy="410" r="8"/><text x="2270" y="410">wang guang</text></g>
<g id="b-li-fei"><circle class="cTl" cx="2225" cy="485" r="5"/><text x="2225" y="485">li fei</text></g>
<g id="b-zheng-wenke"><circle class="cY" cx="1793" cy="525" r="6"/><text x="1793" y="525">zheng wenke</text></g>
<g id="b-yang-fengwen"><circle class="cY" cx="1716" cy="595" r="8"/><text class="m" x="1716" y="595">yang fengwen</text></g>
<g id="b-n-yellow1"><circle class="cY" cx="1808" cy="602" r="8"/></g>
<g id="b-wang-yuguang"><circle class="cB" cx="1912" cy="620" r="9"/><text class="m" x="1912" y="620">wang yuguang</text></g>
<g id="b-lu-qingquan"><circle class="cY" cx="1708" cy="682" r="9"/><text class="m" x="1708" y="682">lu qingquan</text></g>
<g id="b-lu-jing"><circle class="cY" cx="1599" cy="698" r="7"/><text x="1599" y="698">lu jing</text></g>
<g id="b-zhang-boli"><circle class="cY" cx="1786" cy="707" r="9"/><text class="m" x="1786" y="707">zhang boli</text></g>
<g id="b-cai-wei"><circle class="cY" cx="1592" cy="767" r="6"/><text x="1592" y="767">cai wei</text></g>
<g id="b-li-xuzheng"><circle class="cY" cx="1689" cy="767" r="7"/><text x="1689" y="767">li xuzheng</text></g>
<g id="b-zhou-yong"><circle class="cY" cx="1641" cy="825" r="5"/><text x="1641" y="825">zhou yong</text></g>
<g id="b-mi-peng"><circle class="cLB" cx="2014" cy="698" r="7"/><text x="2014" y="698">mi peng</text></g>
<g id="b-li-wenbing"><circle class="cLB" cx="2106" cy="702" r="6"/><text x="2106" y="702">li wenbing</text></g>
<g id="b-li-bao"><circle class="cLB" cx="2157" cy="668" r="5"/><text x="2157" y="668">li bao</text></g>
<g id="b-wang-ning"><circle class="cP" cx="2157" cy="738" r="6"/><text x="2157" y="738">wang ning</text></g>
<g id="b-li-jing"><circle class="cB" cx="2232" cy="735" r="7"/><text x="2232" y="735">li jing</text></g>
<g id="b-wang-wei"><circle class="cB" cx="2103" cy="803" r="7"/><text x="2103" y="803">wang wei</text></g>
<g id="b-chang-shuya"><circle class="cGr" cx="2079" cy="850" r="4"/><text x="2079" y="850">chang shuya</text></g>
<g id="b-liu-wei"><circle class="cB" cx="2374" cy="500" r="6"/><text x="2374" y="500">liu wei</text></g>
<g id="b-zhang-wei"><circle class="cP" cx="2330" cy="627" r="10"/><text class="m" x="2330" y="627">zhang wei</text></g>
<g id="b-li-lin"><circle class="cB" cx="2424" cy="637" r="9"/><text x="2424" y="637">li lin</text></g>
<g id="b-chen-wei"><circle class="cP" cx="2332" cy="747" r="6"/><text x="2332" y="747">chen wei</text></g>
<g id="b-wu-yigen"><circle class="cGr" cx="2317" cy="852" r="5"/><text x="2317" y="852">wu yigen</text></g>
<g id="b-wang-yangjun"><circle class="cP" cx="2457" cy="798" r="6"/><text x="2457" y="798">wang yangjun</text></g>
<g id="b-zhao-yu"><circle class="cGr" cx="2444" cy="847" r="6"/><text x="2440" y="847">zhao yu</text></g>
<g id="b-zhang-yan"><circle class="cP" cx="2504" cy="840" r="7"/><text x="2504" y="840">zhang yan</text></g>
<g id="b-xiong"><circle class="cGr" cx="2367" cy="952" r="3"/><text x="2367" y="952">xiong</text></g>
<g id="b-li-aiyun"><circle class="cO" cx="2628" cy="705" r="7"/><text x="2628" y="705">li aiyun</text></g>
<g id="b-li-jiancheng"><circle class="cO" cx="2705" cy="705" r="9"/><text class="m" x="2705" y="705">li jiancheng</text></g>
<g id="b-n-orange1"><circle class="cO" cx="2660" cy="772" r="6"/></g>
<g id="b-xu-meng"><circle class="cO" cx="2728" cy="767" r="7"/><text x="2728" y="767">xu meng</text></g>
<g id="b-huang-jingsong"><circle class="cR" cx="2640" cy="259" r="6"/><text x="2640" y="259">huang jingsong</text></g>
<g id="b-n-pink1"><circle class="cRp" cx="2718" cy="269" r="6"/></g>
<g id="b-tang-jinyuan"><circle class="cR" cx="2603" cy="323" r="10"/><text class="m" x="2603" y="323">tang jinyuan</text></g>
<g id="b-n-pink2"><circle class="cRp" cx="2685" cy="330" r="7"/></g>
<g id="b-xie-chunguang"><circle class="cR" cx="2772" cy="358" r="12"/><text class="L" x="2772" y="358">xie chunguang</text></g>
<g id="b-you-fengqiang"><circle class="cR" cx="2665" cy="403" r="9"/><text x="2665" y="403">you fengqiang</text></g>
<g id="b-zhang-hong"><circle class="cRp" cx="2553" cy="412" r="7"/><text x="2553" y="412">zhang hong</text></g>
<g id="b-zhang-yi"><circle class="cRp" cx="2628" cy="508" r="6"/><text x="2628" y="508">zhang yi</text></g>
<g id="b-yang-jun"><circle class="cR" cx="2909" cy="320" r="5"/><text x="2909" y="320">yang jun</text></g>
<g id="b-n-red1"><circle class="cR" cx="2961" cy="305" r="8"/></g>
<g id="b-n-pink3"><circle class="cRp" cx="2996" cy="295" r="6"/></g>
</g>
<g id="panel-c">
<g id="c-wu-jianxin"><circle class="cO" cx="1420" cy="1044" r="4"/><text class="s" x="1412" y="1042">wu jianxin</text></g>
<g id="c-n-orange1"><circle class="cO" cx="1382" cy="1053" r="6"/></g>
<g id="c-n-orange2"><circle class="cO" cx="1392" cy="1083" r="6"/></g>
<g id="c-zhang-wei"><circle class="cOl" cx="1435" cy="1071" r="5"/><text class="s" x="1435" y="1071">zhang wei</text></g>
<g id="c-fang-xiaofeng"><circle class="cOl" cx="1432" cy="1132" r="6"/><text class="s" x="1432" y="1132">fang xiaofeng</text></g>
<g id="c-zhu-xiaogao"><circle class="cP" cx="1438" cy="1228" r="6"/><text class="s" x="1438" y="1228">zhu xiaogao</text></g>
<g id="c-fang-xiaoming"><circle class="cP" cx="1523" cy="1223" r="6"/><text class="s" x="1523" y="1223">fang xiaoming</text></g>
<g id="c-li-ping"><circle class="cP" cx="1407" cy="1250" r="5"/><text class="s" x="1407" y="1250">li ping</text></g>
<g id="c-zhao-jianfeng"><circle class="cP" cx="1478" cy="1254" r="6"/><text class="s" x="1478" y="1254">zhao jianfeng</text></g>
<g id="c-n-violet1"><circle class="cV" cx="1435" cy="1272" r="5"/></g>
<g id="c-zhang-zhongjie"><circle class="cPl" cx="1500" cy="1279" r="5"/><text class="s" x="1503" y="1279">zhang zhongjie</text></g>
<g id="c-lu-jianxin"><circle class="cRp" cx="1500" cy="1312" r="4"/><text class="s" x="1503" y="1312">lu jianxin</text></g>
<g id="c-liu-zhenxin"><circle class="cP" cx="1612" cy="1185" r="7"/><text class="s" x="1612" y="1185">liu zhenxin</text></g>
<g id="c-n-purple1"><circle class="cP" cx="1578" cy="1199" r="5"/></g>
<g id="c-zhang-jinhua"><circle class="cP" cx="1608" cy="1263" r="6"/><text class="s" x="1608" y="1263">zhang jinhua</text></g>
<g id="c-tao-bo"><circle class="cT" cx="1663" cy="1058" r="5"/><text class="s" x="1663" y="1058">tao bo</text></g>
<g id="c-n-teal1"><circle class="cT" cx="1700" cy="1067" r="6"/></g>
<g id="c-n-lblue1"><circle class="cLB" cx="1637" cy="1080" r="6"/></g>
<g id="c-chen-xiaohui"><circle class="cT" cx="1667" cy="1098" r="6"/><text class="s" x="1667" y="1098">chen xiaohui</text></g>
<g id="c-n-teal2"><circle class="cT" cx="1698" cy="1105" r="5"/></g>
<g id="c-n-teal3"><circle class="cT" cx="1642" cy="1134" r="6"/></g>
<g id="c-yang-meng"><circle class="cT" cx="1677" cy="1154" r="7"/><text class="s" x="1677" y="1154">yang meng</text></g>
<g id="c-zhang-fei"><circle class="cY" cx="1720" cy="1223" r="7"/><text class="s" x="1720" y="1223">zhang fei</text></g>
<g id="c-n-yellow1"><circle class="cY" cx="1733" cy="1212" r="5"/></g>
<g id="c-n-yellow2"><circle class="cY" cx="1687" cy="1257" r="5"/></g>
<g id="c-zheng-bo"><circle class="cY" cx="1740" cy="1290" r="6"/><text class="s" x="1740" y="1290">zheng bo</text></g>
<g id="c-n-yellow3"><circle class="cY" cx="1787" cy="1303" r="5"/></g>
<g id="c-liu-li"><circle class="cY" cx="1752" cy="1324" r="5"/><text class="s" x="1752" y="1324">liu li</text></g>
<g id="c-n-yellow4"><circle class="cY" cx="1832" cy="1330" r="6"/></g>
<g id="c-zhang-min"><circle class="cY" cx="1788" cy="1353" r="8"/><text class="s" x="1788" y="1353">zhang min</text></g>
<g id="c-n-yellow5"><circle class="cY" cx="1748" cy="1353" r="5"/></g>
<g id="c-n-yellow6"><circle class="cYl" cx="1667" cy="1390" r="6"/></g>
<g id="c-lu-gang"><circle class="cY" cx="1843" cy="1411" r="6"/><text class="s" x="1838" y="1399">lu gang</text></g>
<g id="c-n-lblue2"><circle class="cLB" cx="1967" cy="1337" r="6"/></g>
<g id="c-fu-guangbo"><circle class="cB" cx="2013" cy="1337" r="8"/><text class="s" x="1997" y="1337">fu guangbo</text></g>
<g id="c-n-blue1"><circle class="cB" cx="2040" cy="1355" r="5"/></g>
<g id="c-n-blue2"><circle class="cB" cx="2088" cy="1320" r="5"/></g>
<g id="c-zhao-jie"><circle class="cB" cx="2172" cy="1302" r="6"/><text class="s" x="2172" y="1302">zhao jie</text></g>
<g id="c-n-purple2"><circle class="cP" cx="2135" cy="1308" r="5"/></g>
<g id="c-n-blue3"><circle class="cB" cx="2217" cy="1318" r="6"/></g>
<g id="c-zhan-jianming"><circle class="cP" cx="2167" cy="1338" r="5"/><text class="s" x="2157" y="1338">zhan jianming</text></g>
<g id="c-n-blue4"><circle class="cB" cx="2197" cy="1348" r="6"/></g>
<g id="c-zhang-ze"><circle class="cGr" cx="2230" cy="1360" r="5"/><text class="s" x="2236" y="1360">zhang ze</text></g>
<g id="c-n-blue5"><circle class="cB" cx="2122" cy="1368" r="6"/></g>
<g id="c-wang-yuemei"><circle class="cB" cx="2153" cy="1380" r="6"/><text class="s" x="2153" y="1378">wang yuemei</text></g>
<g id="c-n-blue6"><circle class="cB" cx="2200" cy="1388" r="6"/></g>
<g id="c-n-green1"><circle class="cG" cx="1083" cy="1288" r="6"/></g>
<g id="c-n-green2"><circle class="cG" cx="1098" cy="1290" r="6"/></g>
<g id="c-song-shaohui"><circle class="cG" cx="1142" cy="1301" r="5"/><text class="s" x="1142" y="1301">song shaohui</text></g>
<g id="c-feng-xiaoling"><circle class="cG" cx="1165" cy="1320" r="5"/><text class="s" x="1165" y="1320">feng xiaoling</text></g>
<g id="c-zhang-liang"><circle class="cG" cx="1203" cy="1288" r="6"/><text class="s" x="1235" y="1279">zhang liang</text></g>
<g id="c-wang-qi"><circle class="cG" cx="1290" cy="1292" r="7"/><text class="s" x="1290" y="1292">wang qi</text></g>
<g id="c-zhao-xiaoman"><circle class="cG" cx="1277" cy="1336" r="6"/><text class="s" x="1277" y="1336">zhao xiaoman</text></g>
<g id="c-liu"><circle class="cG" cx="1207" cy="1355" r="5"/><text class="s" x="1207" y="1355">liu</text></g>
<g id="c-li-xiaoping"><circle class="cG" cx="1277" cy="1367" r="7"/><text class="s" x="1277" y="1367">li xiaoping</text></g>
<g id="c-n-green3"><circle class="cG" cx="1245" cy="1367" r="5"/></g>
<g id="c-wu-zhao"><circle class="cG" cx="1217" cy="1420" r="7"/><text class="s" x="1217" y="1420">wu zhao</text></g>
<g id="c-n-green4"><circle class="cG" cx="1192" cy="1428" r="6"/></g>
<g id="c-cheng-hui"><circle class="cG" cx="1223" cy="1446" r="5"/><text class="s" x="1223" y="1446">cheng hui</text></g>
<g id="c-zhao-yiqun"><circle class="cG" cx="1353" cy="1413" r="6"/><text class="s" x="1353" y="1413">zhao yiqun</text></g>
<g id="c-n-red1"><circle class="cR" cx="1485" cy="1368" r="6"/></g>
<g id="c-zhu-hong"><circle class="cR" cx="1527" cy="1373" r="6"/><text class="s" x="1527" y="1373">zhu hong</text></g>
<g id="c-meng-lei"><circle class="cR" cx="1613" cy="1328" r="7"/><text class="s" x="1610" y="1328">meng lei</text></g>
<g id="c-liu-xingui"><circle class="cRr" cx="1603" cy="1386" r="9"/><text class="s" x="1603" y="1386">liu xingui</text></g>
<g id="c-qi-wenzhong"><circle class="cR" cx="1470" cy="1406" r="6"/><text class="s" x="1462" y="1405">qi wenzhong</text></g>
<g id="c-n-red2"><circle class="cRr" cx="1560" cy="1413" r="8"/></g>
<g id="c-n-red3"><circle class="cR" cx="1515" cy="1431" r="7"/></g>
<g id="c-zheng-jie"><circle class="cRr" cx="1577" cy="1446" r="7"/><text class="s" x="1577" y="1446">zheng jie</text></g>
<g id="c-chen-chen"><circle class="cR" cx="1620" cy="1469" r="6"/><text class="s" x="1620" y="1469">chen chen</text></g>
<g id="c-chen-yanping"><circle class="cR" cx="1478" cy="1473" r="7"/><text class="s" x="1458" y="1472">chen yanping</text></g>
<g id="c-n-red4"><circle class="cRr" cx="1535" cy="1478" r="8"/></g>
<g id="c-li-yun"><circle class="cRr" cx="1573" cy="1493" r="7"/><text class="s" x="1573" y="1493">li yun</text></g>
<g id="c-li-yuanchang"><circle class="cR" cx="1485" cy="1513" r="6"/><text class="s" x="1485" y="1513">li yuanchang</text></g>
<g id="c-n-red5"><circle class="cRr" cx="1508" cy="1513" r="8"/></g>
<g id="c-yan-bing"><circle class="cR" cx="1605" cy="1529" r="6"/><text class="s" x="1605" y="1529">yan bing</text></g>
<g id="c-zhao-wenjing"><circle class="cR" cx="1478" cy="1556" r="6"/><text class="s" x="1478" y="1556">zhao wenjing</text></g>
<g id="c-li-yi"><circle class="cR" cx="1578" cy="1565" r="6"/><text class="s" x="1578" y="1565">li yi</text></g>
<g id="c-wang-xi"><circle class="cGr" cx="1527" cy="1623" r="6"/><text class="s" x="1527" y="1623">wang xi</text></g>
<g id="c-ding-bing"><circle class="cGr" cx="1532" cy="1703" r="5"/><text class="s" x="1532" y="1703">ding bing</text></g>
</g>
</svg>
